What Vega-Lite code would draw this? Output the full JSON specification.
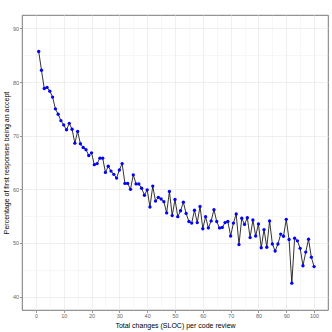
{
  "$schema": "https://vega.github.io/schema/vega-lite/v6.json",
  "autosize": {"type": "none"},
  "padding": {"left": 22, "top": 15, "right": 4, "bottom": 22},
  "width": 306,
  "height": 295,
  "background": "white",
  "config": {
    "font": "Liberation Sans",
    "view": {"stroke": "#555555", "strokeWidth": 0.8},
    "axis": {
      "domain": false,
      "labelFont": "Liberation Sans",
      "labelFontSize": 5.5,
      "labelColor": "#666666",
      "tickColor": "#555555",
      "tickSize": 2.5,
      "tickWidth": 0.6,
      "labelPadding": 1,
      "titleFont": "Liberation Sans",
      "titleFontSize": 7,
      "titleFontWeight": "normal",
      "titleColor": "#000000",
      "gridWidth": {"condition": {"test": "datum.value % 10 === 0", "value": 0.8}, "value": 0.4},
      "gridColor": "#EBEBEB",
      "tickOpacity": {"condition": {"test": "datum.value % 10 === 0", "value": 1}, "value": 0},
      "labelExpr": "datum.value % 10 === 0 ? datum.label : ''"
    }
  },
  "data": {"values": [
    {"x":1,"y":85.7},{"x":2,"y":82.2},{"x":3,"y":78.8},{"x":4,"y":79.0},{"x":5,"y":78.3},
    {"x":6,"y":77.2},{"x":7,"y":75.0},{"x":8,"y":74.0},{"x":9,"y":72.8},{"x":10,"y":72.0},
    {"x":11,"y":71.1},{"x":12,"y":72.3},{"x":13,"y":71.2},{"x":14,"y":68.6},{"x":15,"y":70.8},
    {"x":16,"y":68.5},{"x":17,"y":67.8},{"x":18,"y":67.4},{"x":19,"y":66.3},{"x":20,"y":66.8},
    {"x":21,"y":64.6},{"x":22,"y":64.8},{"x":23,"y":65.8},{"x":24,"y":65.8},{"x":25,"y":63.15},
    {"x":26,"y":64.3},{"x":27,"y":63.4},{"x":28,"y":62.8},{"x":29,"y":62.1},{"x":30,"y":63.6},
    {"x":31,"y":64.8},{"x":32,"y":61.1},{"x":33,"y":61.1},{"x":34,"y":60.0},{"x":35,"y":62.7},
    {"x":36,"y":61.0},{"x":37,"y":61.0},{"x":38,"y":60.2},{"x":39,"y":58.9},{"x":40,"y":59.9},
    {"x":41,"y":56.7},{"x":42,"y":60.6},{"x":43,"y":57.8},{"x":44,"y":58.5},{"x":45,"y":58.2},
    {"x":46,"y":57.7},{"x":47,"y":55.6},{"x":48,"y":59.6},{"x":49,"y":55.1},{"x":50,"y":58.1},
    {"x":51,"y":54.9},{"x":52,"y":56.0},{"x":53,"y":57.6},{"x":54,"y":55.5},{"x":55,"y":54.0},
    {"x":56,"y":53.7},{"x":57,"y":56.1},{"x":58,"y":53.8},{"x":59,"y":56.8},{"x":60,"y":52.65},
    {"x":61,"y":54.9},{"x":62,"y":52.8},{"x":63,"y":54.1},{"x":64,"y":56.2},{"x":65,"y":54.0},
    {"x":66,"y":52.8},{"x":67,"y":52.9},{"x":68,"y":53.8},{"x":69,"y":54.0},{"x":70,"y":51.3},
    {"x":71,"y":53.7},{"x":72,"y":55.4},{"x":73,"y":49.7},{"x":74,"y":54.6},{"x":75,"y":53.45},
    {"x":76,"y":54.7},{"x":77,"y":51.0},{"x":78,"y":54.3},{"x":79,"y":51.3},{"x":80,"y":53.55},
    {"x":81,"y":49.1},{"x":82,"y":52.5},{"x":83,"y":49.2},{"x":84,"y":54.1},{"x":85,"y":49.8},
    {"x":86,"y":48.5},{"x":87,"y":49.8},{"x":88,"y":51.65},{"x":89,"y":51.25},{"x":90,"y":54.4},
    {"x":91,"y":50.65},{"x":92,"y":42.5},{"x":93,"y":50.9},{"x":94,"y":50.4},{"x":95,"y":49.0},
    {"x":96,"y":45.75},{"x":97,"y":48.3},{"x":98,"y":50.7},{"x":99,"y":47.35},{"x":100,"y":45.6}
  ]},
  "encoding": {
    "x": {
      "field": "x", "type": "quantitative",
      "scale": {"domain": [-5, 105], "nice": false, "zero": false},
      "axis": {"values": [0,5,10,15,20,25,30,35,40,45,50,55,60,65,70,75,80,85,90,95,100], "title": "Total changes (SLOC) per code review", "titlePadding": 2}
    },
    "y": {
      "field": "y", "type": "quantitative",
      "scale": {"domain": [37.5, 92.5], "nice": false, "zero": false},
      "axis": {"values": [40,45,50,55,60,65,70,75,80,85,90], "title": "Percentage of first responses being an accept", "titlePadding": 3}
    }
  },
  "layer": [
    {"mark": {"type": "line", "color": "#000000", "strokeWidth": 0.8}},
    {"mark": {"type": "point", "filled": true, "color": "#0000FF", "opacity": 1, "size": 11}}
  ]
}
